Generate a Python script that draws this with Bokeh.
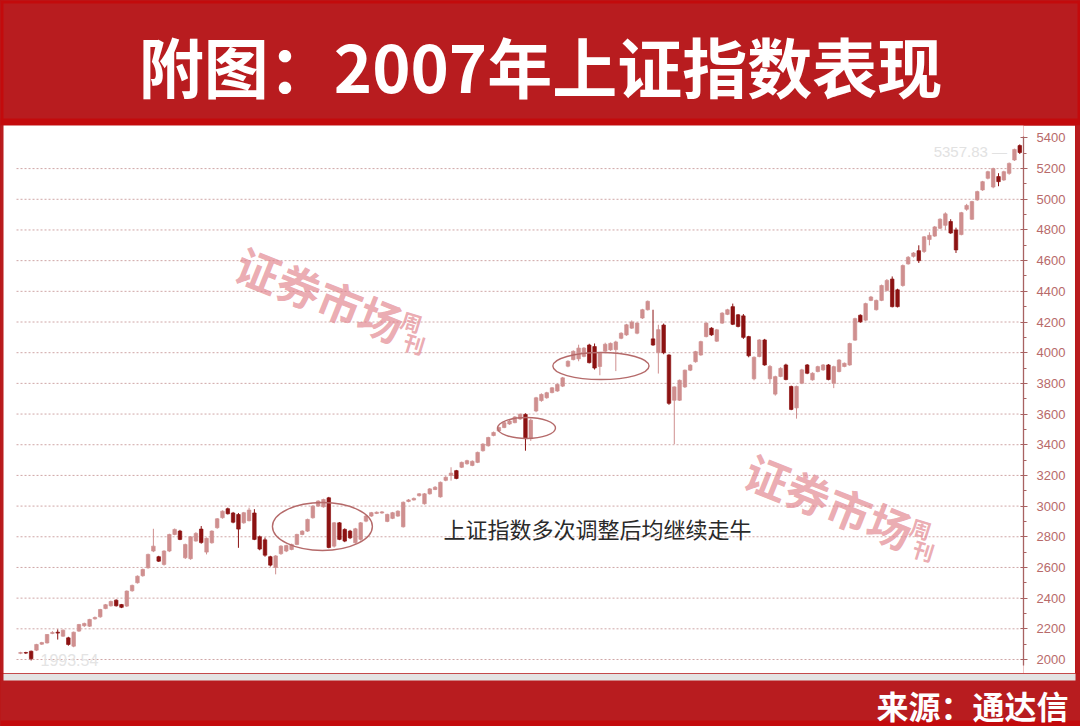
from bokeh.plotting import figure
from bokeh.layouts import column, row
from bokeh.models import Range1d, FixedTicker, ColumnDataSource, Grid
from bokeh.core.properties import value
from bokeh.embed import file_html
from bokeh.resources import INLINE

# ---------------- data (daily candles) ----------------
opens = [2040, 2045, 2054, 2061, 2100, 2108, 2170, 2178, 2152, 2141,
         2087, 2185, 2220, 2217, 2265, 2278, 2332, 2350, 2387, 2358,
         2348, 2448, 2500, 2546, 2598, 2707, 2670, 2620, 2707, 2815,
         2837, 2663, 2657, 2772, 2850, 2700, 2761, 2859, 2924, 2983,
         2955, 2945, 2891, 2905, 2955, 2800, 2780, 2670, 2600, 2690,
         2707, 2717, 2750, 2815, 2837, 2924, 3000, 2995, 3054, 2739,
         2891, 2848, 2837, 2761, 2783, 2902, 2935, 2952, 2955, 2900,
         2920, 2935, 2865, 3030, 3040, 3068, 3015, 3080, 3108, 3060,
         3168, 3200, 3231, 3253, 3276, 3265, 3285, 3361, 3393, 3460,
         3490, 3512, 3535, 3544, 3568, 3598, 3440, 3620, 3688, 3706,
         3740, 3750, 3782, 3912, 3955, 3960, 3976, 4050, 4040, 3910,
         4010, 4018, 4020, 4094, 4116, 4160, 4127, 4226, 4280, 4090,
         4000, 4180, 3985, 3690, 3690, 3777, 3886, 3941, 3985, 4105,
         4160, 4075, 4193, 4250, 4300, 4247, 4240, 4105, 3830, 3975,
         4083, 3830, 3730, 3845, 3920, 3780, 3640, 3801, 3920, 3823,
         3877, 3888, 3920, 3800, 3877, 3910, 3920, 4082, 4244, 4212,
         4341, 4280, 4341, 4406, 4480, 4410, 4438, 4579, 4628, 4665,
         4660, 4738, 4760, 4811, 4830, 4855, 4800, 4770, 4935, 4870,
         4996, 5061, 5137, 5080, 5148, 5126, 5169, 5256, 5350]
highs = [2050, 2050, 2058, 2102, 2115, 2166, 2185, 2196, 2196, 2148,
         2182, 2232, 2240, 2265, 2280, 2330, 2362, 2384, 2392, 2362,
         2450, 2488, 2548, 2592, 2690, 2852, 2676, 2712, 2820, 2854,
         2845, 2755, 2805, 2830, 2870, 2795, 2842, 2922, 2972, 2990,
         2962, 2955, 2962, 2990, 2980, 2808, 2795, 2676, 2680, 2745,
         2748, 2755, 2820, 2842, 2918, 3005, 3038, 3048, 3060, 2896,
         2896, 2855, 2845, 2858, 2896, 2940, 2962, 2965, 2968, 2950,
         2962, 2972, 3030, 3046, 3056, 3085, 3085, 3118, 3130, 3160,
         3195, 3253, 3236, 3290, 3302, 3298, 3355, 3410, 3452, 3486,
         3518, 3550, 3560, 3586, 3604, 3605, 3570, 3712, 3735, 3745,
         3776, 3800, 3842, 3950, 4015, 4052, 4036, 4058, 4060, 4000,
         4065, 4066, 4078, 4133, 4188, 4210, 4198, 4286, 4340, 4280,
         4182, 4190, 3990, 3780, 3825, 3890, 3925, 4012, 4078, 4198,
         4166, 4155, 4264, 4286, 4320, 4252, 4252, 4110, 3976, 4088,
         4090, 3920, 3850, 3905, 3928, 3785, 3785, 3895, 3926, 3872,
         3915, 3926, 3926, 3915, 3958, 3936, 4065, 4228, 4250, 4326,
         4370, 4346, 4444, 4480, 4497, 4417, 4575, 4630, 4656, 4700,
         4760, 4785, 4826, 4876, 4915, 4870, 4815, 4918, 4970, 4990,
         5056, 5120, 5186, 5206, 5170, 5186, 5240, 5330, 5357.83]
lows = [2035, 2036, 1993.54, 2055, 2095, 2104, 2165, 2130, 2148, 2090,
        2080, 2180, 2212, 2212, 2260, 2272, 2328, 2345, 2345, 2335,
        2342, 2442, 2495, 2540, 2592, 2700, 2636, 2612, 2700, 2810,
        2778, 2655, 2650, 2768, 2755, 2685, 2755, 2852, 2918, 2945,
        2888, 2728, 2885, 2900, 2778, 2712, 2670, 2606, 2555, 2682,
        2700, 2712, 2745, 2810, 2832, 2918, 2995, 2990, 2725, 2730,
        2778, 2765, 2785, 2755, 2775, 2895, 2930, 2948, 2950, 2895,
        2915, 2930, 2860, 3025, 3036, 3062, 3010, 3075, 3104, 3055,
        3162, 3166, 3175, 3248, 3270, 3260, 3280, 3355, 3388, 3455,
        3485, 3508, 3530, 3540, 3562, 3361, 3425, 3612, 3680, 3700,
        3735, 3745, 3776, 3905, 3950, 3944, 3970, 3930, 3890, 3853,
        4005, 4012, 3880, 4088, 4110, 4155, 4120, 4220, 4275, 4045,
        3864, 3990, 3660, 3404, 3685, 3770, 3880, 3935, 3980, 4100,
        4110, 4070, 4188, 4245, 4180, 4165, 4090, 3970, 3820, 3970,
        3915, 3800, 3720, 3840, 3820, 3625, 3570, 3795, 3860, 3818,
        3872, 3882, 3820, 3769, 3872, 3905, 3915, 4078, 4195, 4206,
        4336, 4275, 4336, 4400, 4295, 4295, 4430, 4574, 4620, 4585,
        4650, 4700, 4755, 4806, 4800, 4775, 4650, 4765, 4925, 4865,
        4990, 5055, 5130, 5072, 5085, 5120, 5160, 5250, 5295]
closes = [2045, 2042, 2005, 2098, 2110, 2163, 2176, 2172, 2191, 2098,
          2178, 2228, 2235, 2261, 2274, 2326, 2357, 2378, 2350, 2340,
          2446, 2483, 2543, 2587, 2685, 2739, 2641, 2707, 2815, 2848,
          2783, 2750, 2800, 2822, 2762, 2790, 2837, 2917, 2967, 2950,
          2895, 2850, 2957, 2974, 2783, 2720, 2680, 2615, 2675, 2739,
          2743, 2750, 2815, 2837, 2913, 3000, 3033, 3043, 2730, 2891,
          2783, 2772, 2793, 2852, 2891, 2935, 2957, 2960, 2962, 2946,
          2957, 2967, 3025, 3040, 3050, 3080, 3080, 3112, 3123, 3155,
          3188, 3215, 3180, 3285, 3296, 3292, 3350, 3404, 3447, 3480,
          3512, 3544, 3555, 3581, 3598, 3440, 3560, 3706, 3728, 3739,
          3771, 3793, 3836, 3944, 4009, 4030, 4030, 3935, 3900, 3996,
          4055, 4061, 4070, 4127, 4182, 4200, 4193, 4280, 4335, 4050,
          4150, 4000, 3670, 3777, 3820, 3886, 3919, 4007, 4072, 4193,
          4116, 4149, 4258, 4280, 4185, 4171, 4100, 3980, 3970, 4083,
          3920, 3910, 3844, 3898, 3825, 3630, 3780, 3888, 3866, 3866,
          3909, 3920, 3825, 3909, 3952, 3931, 4060, 4222, 4201, 4320,
          4363, 4341, 4438, 4471, 4300, 4300, 4568, 4622, 4650, 4600,
          4755, 4765, 4820, 4870, 4905, 4780, 4670, 4913, 4960, 4985,
          5050, 5115, 5180, 5200, 5115, 5180, 5234, 5325, 5305]

y_major = list(range(2000, 5401, 200))
y_minor = list(range(2100, 5400, 200))
grid_levels = list(range(2000, 5201, 200))

title_text = "附图：2007年上证指数表现"
source_text = "来源：通达信"
note_text = "上证指数多次调整后均继续走牛"

# ---------------- styles ----------------
RED = "#b81c1f"
RED2 = "#c30a0c"
BULL = "#cf8f8f"
BEAR = "#8c1212"
AXC = "#a86262"
LABC = "#b86a6a"
WM = "#e07c86"
CJK = "Noto Sans CJK SC"
W = 1080

n = len(opens)
idx = list(range(n))


def strip_grids(f):
    f.center = [r for r in f.center if not isinstance(r, Grid)]


def clean(f, fill):
    f.background_fill_color = fill
    f.border_fill_color = fill
    f.outline_line_color = None
    f.title.visible = False


def band(width, height, fill=RED):
    f = figure(width=width, height=height, x_range=Range1d(0, width),
               y_range=Range1d(0, height), toolbar_location=None, tools="",
               output_backend="svg", x_axis_location=None, y_axis_location=None,
               min_border=0)
    clean(f, fill)
    strip_grids(f)
    return f


# ---------------- title band ----------------
top = band(W, 125)
top.quad(left=[0, 0, 0, W - 3], right=[W, W, 3, W], bottom=[0, 122, 0, 0],
         top=[7, 125, 125, 125], fill_color=RED2, line_color=None)
top.text(x=[540], y=[61], text=[title_text], text_font=value(CJK),
         text_font_size="65px", text_font_style="bold", text_color="white",
         text_align="center", text_baseline="middle")

# ---------------- main chart ----------------
p = figure(width=1072, height=548, x_range=Range1d(-3.2, n - 1 + 0.7),
           y_range=Range1d(1908.7, 5481), toolbar_location=None, tools="",
           output_backend="svg", x_axis_location=None, y_axis_location="right",
           min_border_left=0, min_border_right=52, min_border_top=0, min_border_bottom=0)
clean(p, "white")
strip_grids(p)

# dotted price grid, from the first to the last trading day
p.segment(x0=-0.75, x1=n - 1 + 0.2, y0=grid_levels, y1=grid_levels,
          line_color="#cfa6a6", line_dash="2 2", line_width=1)

ax = p.yaxis[0]
ax.ticker = FixedTicker(ticks=y_major, minor_ticks=y_minor)
ax.bounds = (1960, 5410)
ax.axis_line_color = AXC
ax.axis_line_width = 1.3
ax.major_tick_line_color = AXC
ax.minor_tick_line_color = AXC
ax.major_tick_in = 3
ax.major_tick_out = 4
ax.minor_tick_in = 0
ax.minor_tick_out = 3
ax.major_label_text_color = LABC
ax.major_label_text_font = "Liberation Sans"
ax.major_label_text_font_size = "13px"
ax.major_label_standoff = 9

colors = [BULL if c >= o else BEAR for o, c in zip(opens, closes)]
src = ColumnDataSource(dict(
    x=idx, h=highs, l=lows,
    top=[max(o, c) for o, c in zip(opens, closes)],
    bottom=[min(o, c) for o, c in zip(opens, closes)],
    color=colors))
p.segment(x0="x", y0="h", x1="x", y1="l", line_color="color", line_width=1, source=src)
p.vbar(x="x", width=0.66, top="top", bottom="bottom", fill_color="color",
       line_color="color", line_width=0.7, source=src)

# highlighted consolidations (centre candle index, centre price, span in candles, span in price)
ell_x = [56.8, 95.2, 109.2]
ell_y = [2867, 3509, 3913]
ell_w = [18.8, 10.9, 18.1]
ell_h = [313, 137, 176]
p.ellipse(x=ell_x, y=ell_y, width=ell_w, height=ell_h, fill_color=None,
          line_color="#b56a6a", line_width=1.4)

# note
p.text(x=[79.6], y=[2855], text=[note_text], text_font=value(CJK),
       text_font_size="22px", text_color="#2a2a2a", text_align="left",
       text_baseline="middle")

# min / max labels
lo_i = lows.index(min(lows))
hi_i = highs.index(max(highs))
p.text(x=[lo_i + 7.2], y=[min(lows)], text=[f"{min(lows):.2f}"],
       text_font=value("Liberation Sans"), text_font_size="16px",
       text_color="#e4e4e4", text_align="center", text_baseline="middle")
p.text(x=[hi_i - 9.3], y=[max(highs) - 45], text=[f"{max(highs):.2f} —"],
       text_font=value("Liberation Sans"), text_font_size="15px",
       text_color="#e2e2e2", text_align="center", text_baseline="middle")

# watermarks
wm_x = [56.4, 152.2]
wm_y = [4386, 3037]
p.text(x=wm_x, y=wm_y, text=["证券市场", "证券市场"], angle=-0.38,
       text_font=value(CJK), text_font_size="44px", text_font_style="bold",
       text_color=WM, text_alpha=0.65, text_align="center", text_baseline="middle")
p.text(x=[73.6, 74.1, 169.4, 169.9], y=[4203, 4060, 2854, 2711],
       text=["周", "刊", "周", "刊"], angle=-0.3,
       text_font=value(CJK), text_font_size="21px", text_font_style="bold",
       text_color=WM, text_alpha=0.65, text_align="center", text_baseline="middle")

left_edge = band(3, 548)
right_edge = band(5, 548)

# ---------------- source band ----------------
bot = band(W, 53)
bot.quad(left=[3, 0], right=[1075, W], bottom=[46, 0], top=[53, 6],
         fill_color=["#e3e3e3", RED2], line_color=None)
bot.text(x=[1068], y=[22], text=[source_text], text_font=value(CJK),
         text_font_size="32px", text_font_style="bold", text_color="white",
         text_align="right", text_baseline="middle")

layout = column(top, row(left_edge, p, right_edge, spacing=0), bot, spacing=0)
html = file_html(layout, INLINE)
html = html.replace("<head>", "<head><style>html,body{background:#bd1215;overflow:hidden;}</style>", 1)
open("out.html", "w").write(html)
